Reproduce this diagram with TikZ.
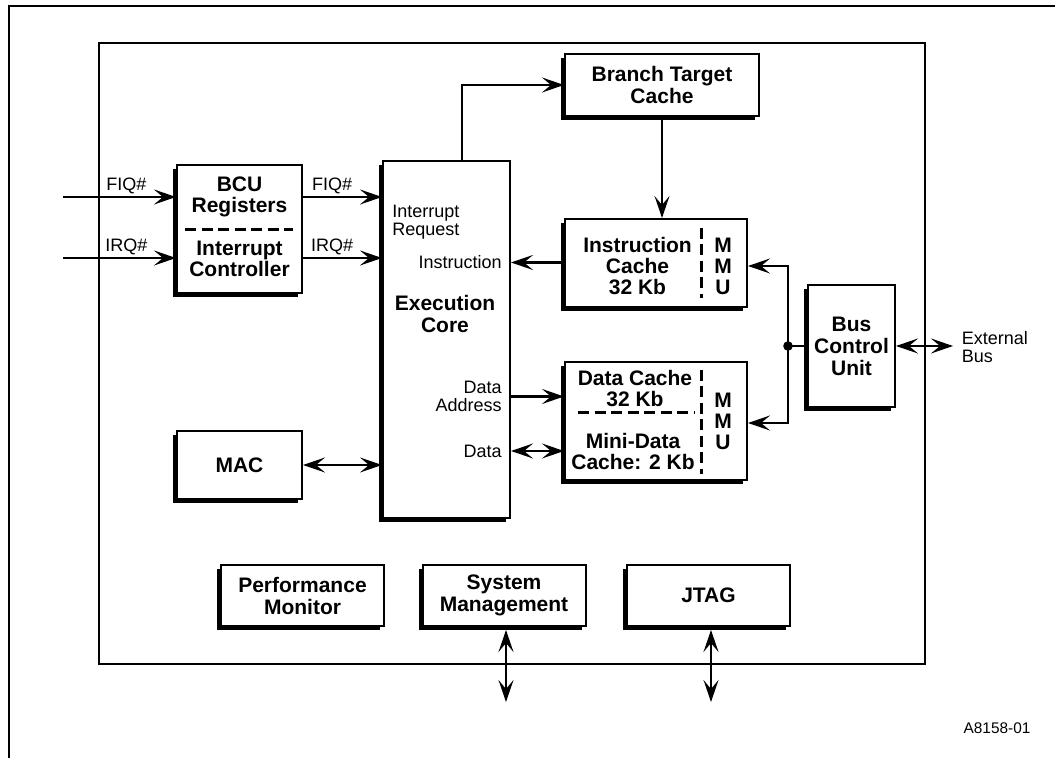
\documentclass[tikz,border=0pt]{standalone}
\usepackage{fontspec}
\setmainfont{Liberation Sans}
\usetikzlibrary{positioning, arrows.meta, shadows}
\tikzset{
    frame/.style={line width=1.3pt},
    block/.style={
        draw,
        line width=1pt,
        fill=white,
        align=center,
        inner sep=0pt,
        font=\fontsize{10.5}{11}\selectfont\bfseries,
        drop shadow={shadow xshift=-1.8pt, shadow yshift=-1.8pt, fill=black, opacity=1}
    },
    btext/.style={inner sep=0pt, align=center, font=\fontsize{10.5}{10.5}\selectfont\bfseries},
    lbl/.style={inner sep=0pt, font=\fontsize{9}{9}\selectfont},
    arr/.style={->, >={Stealth[length=11pt, width=7.5pt, inset=4.5pt]}, line width=1.1pt},
    dbl/.style={<->, >={Stealth[length=11pt, width=7.5pt, inset=4.5pt]}, line width=1.1pt},
    sep/.style={dash pattern=on 5.5pt off 2.75pt, line width=1.5pt}
}

\begin{document}
\begin{tikzpicture}[x=0.5pt, y=-0.5pt]
	\useasboundingbox (0, 0) rectangle (1055, 758);
	\draw[frame] (9, 758) -- (9, 6) -- (1055, 6);
	\draw[frame] (99, 43) rectangle (925, 664);

	\node[block, minimum width=62.5pt, minimum height=64pt] at (239.5, 229) (bcu) {};
	\node[btext] at (239.5, 197) (bcutop) {BCU\\Registers};
	\node[btext] at (239.5, 259) (bcubot) {Interrupt\\Controller};
	\draw[sep] (185, 230) -- (293, 230);

	\node[block, minimum width=63.5pt, minimum height=178.5pt] at (446.5, 339.5) (core) {};
	\node[btext, font=\fontsize{10.5}{11}\selectfont\bfseries] at (445, 314) (corename) {Execution\\Core};
	\node[lbl, align=left, anchor=west] at (392, 222.5) (irqlbl) {Interrupt\\Request};
	\node[lbl, anchor=east] at (502, 262.5) (instr) {Instruction};
	\node[lbl, align=right, anchor=east] at (502, 396.5) (daddr) {Data\\Address};
	\node[lbl, anchor=east] at (502, 451) (dat) {Data};

	\node[block, minimum width=97pt, minimum height=31pt] at (662, 85) (btc) {Branch Target\\Cache};

	\node[block, minimum width=91pt, minimum height=44pt] at (656, 263) (icache) {};
	\node[btext] at (637.5, 266) (ictext) {Instruction\\Cache\\32 Kb};
	\node[btext] at (723, 266.5) (immu) {M\\M\\U};
	\draw[sep] (701, 228) -- (701, 298);

	\node[block, minimum width=91pt, minimum height=59pt] at (656, 421) (dcache) {};
	\node[btext] at (635, 389) (dctext) {Data Cache\\32 Kb};
	\node[btext] at (633, 451.5) (mdtext) {Mini-Data\\Cache: 2 Kb};
	\node[btext] at (723, 421) (dmmu) {M\\M\\U};
	\draw[sep] (701, 370) -- (701, 474);
	\draw[sep] (578, 413) -- (695, 413);

	\node[block, minimum width=43.5pt, minimum height=61pt] at (851.5, 346) (bcunit) {Bus\\Control\\Unit};
	\node[lbl, align=left, anchor=west] at (961.5, 347.5) (extbus) {External\\Bus};

	\node[block, minimum width=62.5pt, minimum height=34pt] at (239.5, 465) (mac) {MAC};

	\node[block, minimum width=81.5pt, minimum height=30.5pt] at (302.5, 595.5) (perf) {Performance\\Monitor};
	\node[block, minimum width=81.5pt, minimum height=30.5pt] at (504, 595.5) (sysm) {System\\Management};
	\node[block, minimum width=81.5pt, minimum height=30.5pt] at (708.5, 595.5) (jtag) {JTAG};

	\node[lbl, font=\fontsize{7.7}{8}\selectfont] at (997, 728) (figid) {A8158-01};

	\coordinate (fiqpin) at (63, 197);
	\coordinate (irqpin) at (63, 258);
	\coordinate (junc) at (788, 346);
	\coordinate (extend) at (953, 346);
	\coordinate (smio) at (506, 702);
	\coordinate (jtio) at (711, 702);

	\draw[arr] (fiqpin) -- node[lbl, above=1pt, pos=0.56] (fiqa) {FIQ\#} (fiqpin -| bcu.west);
	\draw[arr] (irqpin) -- node[lbl, above=1pt, pos=0.56] (irqa) {IRQ\#} (irqpin -| bcu.west);
	\draw[arr] (fiqpin -| bcu.east) -- node[lbl, above=1pt, pos=0.37] (fiqb) {FIQ\#} (fiqpin -| core.west);
	\draw[arr] (irqpin -| bcu.east) -- node[lbl, above=1pt, pos=0.37] (irqb) {IRQ\#} (irqpin -| core.west);
	\draw[arr] ([xshift=7.75pt]core.north) |- (btc.west);
	\draw[arr] (btc.south) -- (btc.south |- icache.north);
	\draw[arr] (instr -| icache.west) -- (instr -| core.east);
	\draw[arr] (daddr -| core.east) -- (daddr -| dcache.west);
	\draw[dbl] (dat -| core.east) -- (dat -| dcache.west);
	\draw[dbl] (mac.east) -- (mac.east -| core.west);
	\draw[arr] (junc) |- ([yshift=-1.5pt]icache.east);
	\draw[arr] (junc) |- ([yshift=-1pt]dcache.east);
	\draw[line width=1.1pt] (junc) -- (bcunit.west);
	\fill (junc) circle[radius=2.4pt];
	\draw[dbl] (bcunit.east) -- (extend);
	\draw[dbl, shorten <=1.5pt] (sysm.south -| smio) -- (smio);
	\draw[dbl, shorten <=1.5pt] (jtag.south -| jtio) -- (jtio);
\end{tikzpicture}
\end{document}
